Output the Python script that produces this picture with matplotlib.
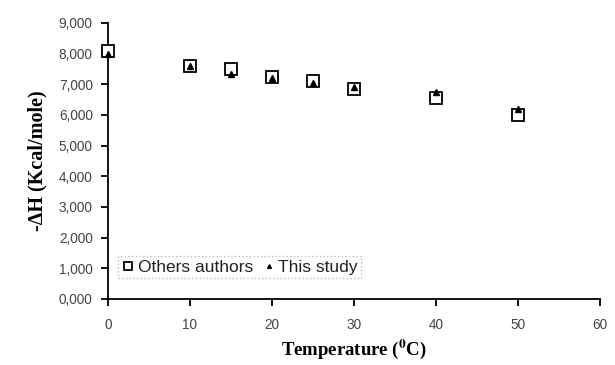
import matplotlib
matplotlib.use("Agg")
import matplotlib.pyplot as plt
from matplotlib.ticker import FuncFormatter

temps = [0, 10, 15, 20, 25, 30, 40, 50]
others = [8.10, 7.60, 7.50, 7.25, 7.10, 6.85, 6.55, 6.00]
study_t = [0, 10, 15, 20, 25, 30, 40, 50]
study = [8.00, 7.60, 7.35, 7.20, 7.05, 6.90, 6.75, 6.20]
xticks = [0, 10, 20, 30, 40, 50, 60]
yticks = [0, 1, 2, 3, 4, 5, 6, 7, 8, 9]

plt.rcParams['mathtext.fontset'] = 'stix'
fig = plt.figure(figsize=(6.15, 3.65), dpi=100)
ax = fig.add_axes([0.1756, 0.181, 0.80, 0.756])

ax.plot(temps, others, linestyle='none', marker='s', markersize=8.5,
        markerfacecolor='white', markeredgecolor='black', markeredgewidth=1.3,
        label='Others authors', zorder=3, clip_on=False)
ax.plot(study_t, study, linestyle='none', marker='^', markersize=4.5,
        color='black', label='This study', zorder=4, clip_on=False)

ax.set_xlim(0, 60)
ax.set_ylim(0, 9)
ax.set_xticks(xticks)
ax.set_yticks(yticks)
ax.yaxis.set_major_formatter(FuncFormatter(lambda v, p: f"{v:.3f}".replace('.', ',')))
for s in ['top', 'right']:
    ax.spines[s].set_visible(False)
for s in ['left', 'bottom']:
    ax.spines[s].set_linewidth(1.3)
ax.tick_params(direction='out', length=5, width=1.3, labelsize=9.8,
               labelcolor='#444444')
ax.tick_params(axis='x', pad=9)
ax.tick_params(axis='y', pad=6)
for lbl in ax.get_xticklabels() + ax.get_yticklabels():
    lbl.set_family('Liberation Sans')

ax.set_ylabel('-ΔH (Kcal/mole)', family='Liberation Serif', fontweight='bold',
              fontsize=14.5, labelpad=8)
ax.set_xlabel(r'Temperature ($\mathbf{^0}$C)', family='Liberation Serif',
              fontweight='bold', fontsize=13.5, labelpad=4)

leg = ax.legend(loc='lower left', bbox_to_anchor=(0.02, 0.075), ncol=2,
                borderaxespad=0, fancybox=False, edgecolor='#bbbbbb',
                handletextpad=0.15, columnspacing=0.5, markerscale=0.6,
                prop={'family': 'Liberation Sans', 'size': 12.5},
                handlelength=0.8, borderpad=0.2, framealpha=1)
leg.get_frame().set_linestyle(':')
for t in leg.get_texts():
    t.set_color('#222222')

fig.savefig('out.png', dpi=100)
